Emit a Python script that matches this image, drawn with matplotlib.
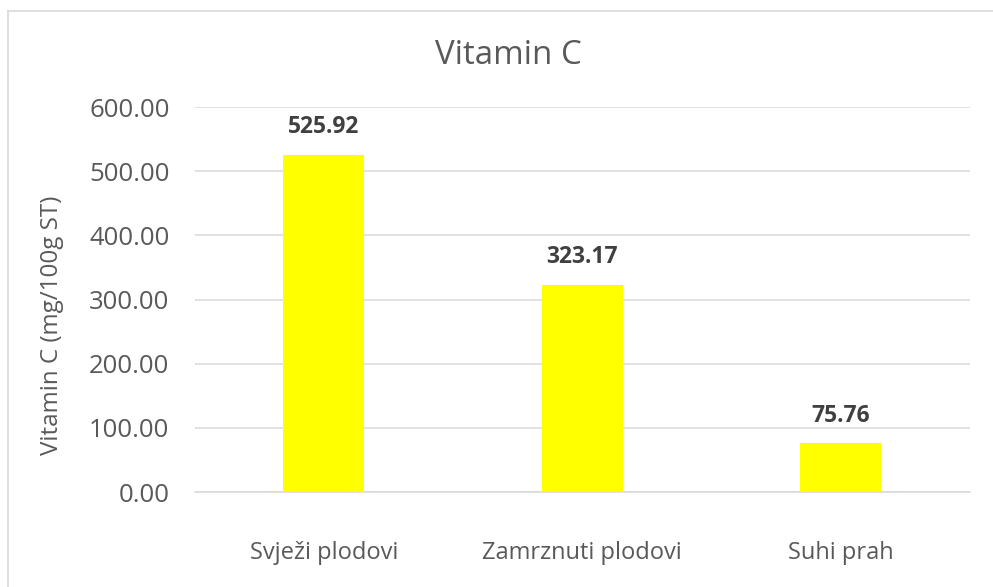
import matplotlib.pyplot as plt
from matplotlib.lines import Line2D

categories = ['Svježi plodovi', 'Zamrznuti plodovi', 'Suhi prah']
values = [525.92, 323.17, 75.76]
yticks = [0, 100, 200, 300, 400, 500, 600]

plt.rcParams['font.family'] = ['Open Sans', 'DejaVu Sans']

fig = plt.figure(figsize=(9.93, 5.87), dpi=100)
ax = fig.add_axes([0.1959, 0.1618, 0.7809, 0.6559])

x = range(len(categories))
bars = ax.bar(x, values, width=0.313, color='#ffff00', zorder=3)

ax.set_xlim(-0.5, 2.5)
ax.set_ylim(0, 600)
ax.set_yticks(yticks)
ax.set_yticklabels([f'{v:.2f}' for v in yticks], fontsize=18.5, color='#595959')
ax.set_xticks(list(x))
ax.set_xticklabels(categories, fontsize=17, color='#595959')
ax.tick_params(axis='both', length=0)
ax.tick_params(axis='y', pad=18)
ax.tick_params(axis='x', pad=35)
ax.grid(axis='y', color='#d9d9d9', linewidth=1.1, zorder=0)
for s in ['top', 'right', 'left']:
    ax.spines[s].set_visible(False)
ax.spines['bottom'].set_color('#d9d9d9')
ax.spines['bottom'].set_linewidth(1.1)

for b, v in zip(bars, values):
    ax.annotate(f'{v:.2f}', (b.get_x() + b.get_width() / 2, v), xytext=(0, 11),
                textcoords='offset points', ha='center', va='bottom',
                fontsize=16.5, fontweight='bold', color='#404040')

fig.text(0.512, 0.906, 'Vitamin C', ha='center', va='center', fontsize=23.8, color='#595959')
fig.text(0.052, 0.446, 'Vitamin C (mg/100g ST)', ha='center', va='center',
         rotation=90, fontsize=17.4, color='#595959')

# chart area border (top and left only visible)
fig.add_artist(Line2D([8 / 993, 8 / 993], [0, 1 - 11 / 587], transform=fig.transFigure,
                      color='#d9d9d9', linewidth=1.2))
fig.add_artist(Line2D([8 / 993, 1], [1 - 11 / 587, 1 - 11 / 587], transform=fig.transFigure,
                      color='#d9d9d9', linewidth=1.2))

fig.savefig('out.png', dpi=100)
